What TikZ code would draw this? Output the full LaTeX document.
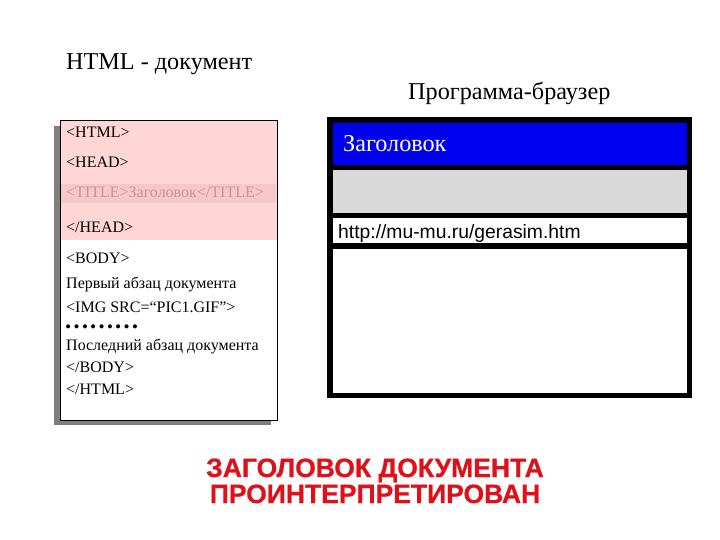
\documentclass[tikz,border=0pt]{standalone}
\usepackage{fontspec}
\setmainfont{Liberation Serif}
\newfontfamily\arialfont{Liberation Sans}
\newfontfamily\redfont[BoldFeatures={FakeBold=0.7}]{Liberation Sans}
\definecolor{headpink}{HTML}{FFD6D6}
\definecolor{titleband}{HTML}{F7C6C6}
\definecolor{titletext}{HTML}{C89494}
\definecolor{shadowgray}{HTML}{7F7F7F}
\definecolor{barblue}{HTML}{0000F0}
\definecolor{bargray}{HTML}{D9D9D9}
\definecolor{cream}{HTML}{FFFFE8}
\definecolor{redtext}{HTML}{E0101A}
\tikzset{
  codeline/.style={anchor=base west, inner sep=0pt, font=\fontsize{16}{16}\selectfont},
  heading/.style={anchor=base west, inner sep=0pt, font=\fontsize{24.2}{24.2}\selectfont},
  redline/.style={anchor=base, inner sep=0pt, text=redtext, font=\redfont\bfseries\fontsize{26.5}{26.5}\selectfont},
}
\begin{document}
\begin{tikzpicture}[x=1pt,y=-1pt]
\useasboundingbox[fill=white] (0,0) rectangle (720,540);
% headings
\node[heading] (h1) at (66,70) {HTML - документ};
\node[heading] (h2) at (408,100) {Программа-браузер};
% document box
\fill[shadowgray] (54,126) rectangle (271,425);
\fill[white] (60,120) rectangle (277,420);
\fill[headpink] (60,120) rectangle (277,240);
\fill[titleband] (61,184) rectangle (276,203);
\draw[black, line width=0.8pt] (60,120) rectangle (277,420);
\node[codeline] (l1) at (66,138) {<HTML>};
\node[codeline] (l2) at (66,168) {<HEAD>};
\node[codeline, text=titletext] (l3) at (66,198) {<TITLE>Заголовок</TITLE>};
\node[codeline] (l4) at (66,233) {</HEAD>};
\node[codeline] (l5) at (66,263) {<BODY>};
\node[codeline] (l6) at (66,288) {Первый абзац документа};
\node[codeline] (l7) at (66,312) {<IMG SRC=“PIC1.GIF”>};
\node[codeline, font=\bfseries\fontsize{25}{25}\selectfont, text height=4pt, text depth=0pt] (l8) at (64,328) {………};
\node[codeline] (l9) at (66,350) {Последний абзац документа};
\node[codeline] (l10) at (66,372) {</BODY>};
\node[codeline] (l11) at (66,394) {</HTML>};
% browser window
\fill[black] (327,117) rectangle (692,398);
\fill[barblue] (333,123) rectangle (687,165);
\fill[bargray] (333,170) rectangle (687,213);
\fill[white] (333,218) rectangle (687,243);
\fill[white] (333,249) rectangle (687,393);
\node[heading, text=cream] (bt) at (343,152) {Заголовок};
\node[anchor=base west, inner sep=0pt, font=\arialfont\fontsize{19.3}{19.3}\selectfont] (url) at (338,238) {http://mu-mu.ru/gerasim.htm};
% bottom caption
\node[redline] (r1) at (375,477) {ЗАГОЛОВОК ДОКУМЕНТА};
\node[redline] (r2) at (375,503) {ПРОИНТЕРПРЕТИРОВАН};
\end{tikzpicture}
\end{document}
